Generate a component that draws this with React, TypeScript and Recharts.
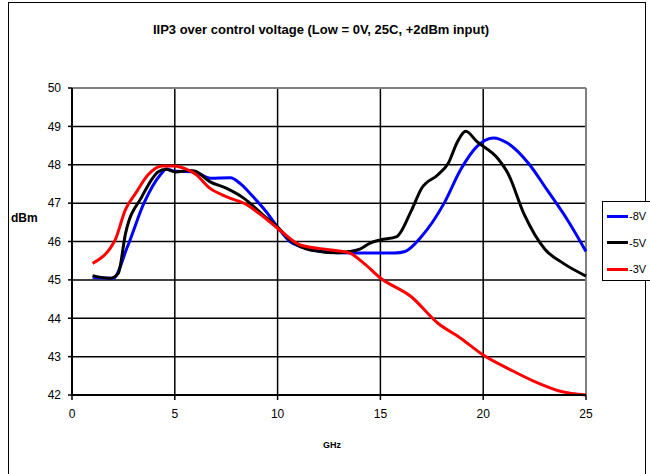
import { LineChart, Line, XAxis, YAxis, CartesianGrid, ReferenceLine } from 'recharts'

// -8V curve
const freqM8 = [1, 2, 2.7, 3.5, 4.3, 4.6, 5, 5.9, 6.7, 7.7, 8.2, 8.8, 9.5, 10.1, 10.6, 11.1, 12.1, 13.7, 15.7, 16.2, 17, 18.1, 18.9, 19.7, 20.5, 21.2, 22.2, 23.1, 24.1, 25]
const iip3M8 = [45.07, 45.04, 45.87, 47.0, 47.74, 47.89, 47.83, 47.82, 47.65, 47.66, 47.5, 47.17, 46.74, 46.3, 46.0, 45.87, 45.74, 45.7, 45.7, 45.74, 46.13, 47.0, 47.87, 48.48, 48.7, 48.56, 48.04, 47.35, 46.56, 45.74]

// -5V curve
const freqM5 = [1, 1.85, 2.25, 2.6, 3.4, 4.2, 4.55, 5.05, 5.7, 6.0, 6.7, 7.5, 8.35, 9.3, 10.05, 10.6, 11.6, 12.9, 13.5, 14.0, 14.5, 15.0, 15.8, 16.5, 17.0, 17.8, 18.3, 18.75, 19.15, 19.7, 20.7, 21.2, 22.0, 23.0, 23.9, 25]
const iip3M5 = [45.11, 45.04, 45.17, 46.2, 47.17, 47.82, 47.88, 47.81, 47.85, 47.83, 47.56, 47.39, 47.13, 46.69, 46.35, 46.04, 45.78, 45.71, 45.74, 45.8, 45.96, 46.04, 46.13, 46.8, 47.38, 47.74, 48.04, 48.6, 48.87, 48.6, 48.17, 47.78, 46.7, 45.8, 45.43, 45.1]

// -3V curve
const freqM3 = [1, 1.8, 2.1, 2.6, 3.1, 3.7, 4.4, 5.0, 5.5, 6.0, 6.7, 7.5, 8.5, 9.3, 10.1, 11.1, 12.6, 13.5, 14.2, 15.0, 16.5, 17.8, 18.9, 20.0, 21.35, 22.5, 23.8, 25]
const iip3M3 = [45.43, 45.78, 46.04, 46.83, 47.26, 47.74, 47.97, 47.97, 47.9, 47.76, 47.39, 47.17, 46.96, 46.65, 46.3, 45.91, 45.78, 45.7, 45.43, 45.05, 44.56, 43.87, 43.48, 43.04, 42.65, 42.35, 42.09, 42.0]

const xTicks = [0, 5, 10, 15, 20, 25]
const yTicks = [42, 43, 44, 45, 46, 47, 48, 49, 50]

const toPoints = (freq: number[], vals: number[]) => freq.map((f, i) => ({ ghz: f, dbm: vals[i] }))

const series = [
  { name: '-8V', color: '#0000ff', data: toPoints(freqM8, iip3M8) },
  { name: '-5V', color: '#000000', data: toPoints(freqM5, iip3M5) },
  { name: '-3V', color: '#ff0000', data: toPoints(freqM3, iip3M3) },
]

const font = '"Liberation Sans", Arial, sans-serif'

export default function App() {
  return (
    <div
      style={{
        position: 'absolute',
        left: 0,
        top: 0,
        width: 650,
        height: 474,
        background: '#fff',
        overflow: 'hidden',
        fontFamily: font,
      }}
    >
      <div
        style={{
          position: 'absolute',
          left: 8,
          top: 2,
          width: 638,
          height: 520,
          border: '1px solid #000',
          boxSizing: 'border-box',
        }}
      />
      <div
        style={{
          position: 'absolute',
          left: 0,
          width: 642,
          top: 22,
          textAlign: 'center',
          fontSize: 13,
          fontWeight: 'bold',
        }}
      >
        IIP3 over control voltage (Low = 0V, 25C, +2dBm input)
      </div>
      <div style={{ position: 'absolute', left: 11, top: 211, fontSize: 12, fontWeight: 'bold' }}>dBm</div>
      <div style={{ position: 'absolute', left: 323, top: 440, fontSize: 9, fontWeight: 'bold' }}>GHz</div>

      <LineChart
        width={650}
        height={474}
        margin={{ top: 88, right: 64, bottom: 0, left: 0 }}
        style={{ position: 'absolute', left: 0, top: 0 }}
      >
        <CartesianGrid stroke="#000" strokeWidth={1.5} />
        <XAxis
          dataKey="ghz"
          type="number"
          domain={[0, 25]}
          ticks={xTicks}
          height={79}
          axisLine={{ stroke: '#000', strokeWidth: 2 }}
          tickLine={{ stroke: '#000', strokeWidth: 1.5 }}
          tickSize={5}
          tickMargin={9}
          tick={{ fontSize: 12, fill: '#000', fontFamily: font }}
          allowDuplicatedCategory={false}
        />
        <YAxis
          type="number"
          domain={[42, 50]}
          ticks={yTicks}
          width={72}
          axisLine={{ stroke: '#000', strokeWidth: 2 }}
          tickLine={{ stroke: '#000', strokeWidth: 1.5 }}
          tickSize={4}
          tickMargin={7}
          tick={{ fontSize: 12, fill: '#000', fontFamily: font }}
        />
        <ReferenceLine y={50} stroke="#808080" strokeWidth={2} />
        <ReferenceLine x={25} stroke="#808080" strokeWidth={2} />
        {series.map((s) => (
          <Line
            key={s.name}
            data={s.data}
            dataKey="dbm"
            name={s.name}
            type="monotone"
            stroke={s.color}
            strokeWidth={3}
            dot={false}
            isAnimationActive={false}
          />
        ))}
      </LineChart>

      <div
        style={{
          position: 'absolute',
          left: 602,
          top: 201,
          width: 60,
          height: 80,
          border: '1px solid #000',
          boxSizing: 'border-box',
          background: '#fff',
        }}
      >
        {series.map((s, i) => (
          <div
            key={s.name}
            style={{ position: 'absolute', left: 4, top: 8 + i * 26.5, display: 'flex', alignItems: 'center', fontSize: 11 }}
          >
            <span style={{ display: 'inline-block', width: 21, height: 3, background: s.color }} />
            <span style={{ marginLeft: 1 }}>{s.name}</span>
          </div>
        ))}
      </div>
    </div>
  )
}
